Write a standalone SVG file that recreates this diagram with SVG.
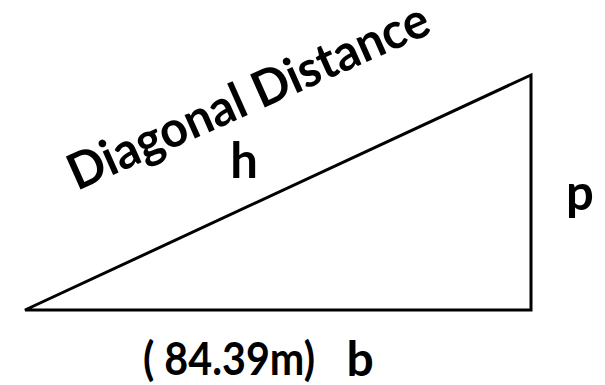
<svg xmlns="http://www.w3.org/2000/svg" width="605" height="385" viewBox="0 0 605 385">
<style>
.t{font-family:Lato,"Open Sans","Liberation Sans",sans-serif;font-weight:bold;fill:#000}
.edge{fill:none;stroke:#000;stroke-width:3;stroke-linejoin:miter}
</style>
<rect width="605" height="385" fill="#fff"/>
<g id="connectors">
<path class="edge" d="M25,310 L531,75 L531,310 Z"/>
</g>
<g id="label-diagonal">
<text class="t" font-size="50" transform="translate(77,191) rotate(-24)" x="0" y="0" textLength="390" lengthAdjust="spacingAndGlyphs">Diagonal Distance</text>
</g>
<g id="label-h">
<text class="t" font-size="49" x="244" y="178" text-anchor="middle">h</text>
</g>
<g id="label-p">
<text class="t" font-size="49" x="580" y="210" text-anchor="middle">p</text>
</g>
<g id="label-b">
<text class="t" font-size="48" x="360" y="376" text-anchor="middle">b</text>
</g>
<g id="label-length">
<text class="t" font-size="46" x="143" y="375" textLength="172" lengthAdjust="spacingAndGlyphs">( 84.39m)</text>
</g>
</svg>
